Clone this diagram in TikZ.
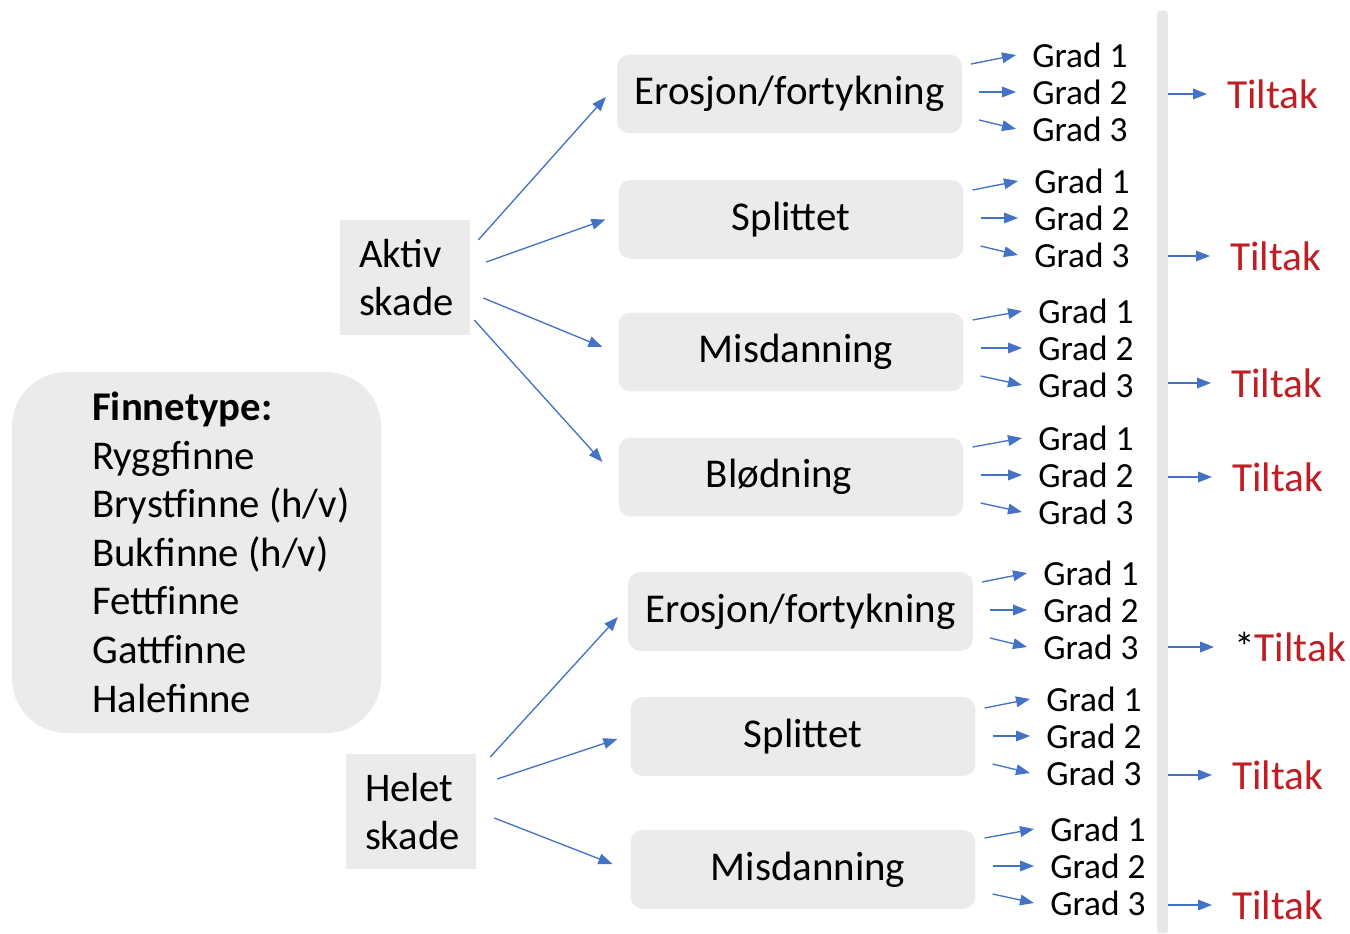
\documentclass[tikz,border=0pt]{standalone}
\usepackage{fontspec}
\setmainfont{Carlito}
\usetikzlibrary{arrows.meta,calc}
\definecolor{boxgray}{RGB}{235,235,235}
\definecolor{bargray}{RGB}{232,232,232}
\definecolor{arrblue}{RGB}{68,114,196}
\definecolor{tilred}{RGB}{190,30,36}
\tikzset{
  catbox/.style={fill=boxgray, rounded corners=9pt, inner sep=0pt,
    minimum width=258.5pt, minimum height=59pt,
    font=\fontsize{30.7pt}{36pt}\selectfont},
  dmgbox/.style={fill=boxgray, inner xsep=14.25pt, inner ysep=0pt,
    text width=69pt, align=left, minimum height=86.25pt,
    font=\fontsize{30.5pt}{36pt}\selectfont},
  gradlbl/.style={anchor=west, inner sep=0pt, font=\fontsize{26.5pt}{30pt}\selectfont},
  tiltak/.style={anchor=west, inner sep=0pt, text=tilred, font=\fontsize{31pt}{36pt}\selectfont},
  arr/.style={draw=arrblue, line width=1pt, -{Triangle[length=10.5pt,width=8pt]}},
}
\newcommand{\gradgroup}[4]{%
  \node[gradlbl] (#2a) at (#3,#4) {Grad 1};
  \node[gradlbl] (#2b) at (#3,#4+37) {Grad 2};
  \node[gradlbl] (#2c) at (#3,#4+74) {Grad 3};
  \draw[arr] ($(#1.east |- #2a.west)+(9,9)$) -- ($(#2a.west)+(-16,0)$);
  \draw[arr] ($(#1.east |- #2b.west)+(17,0)$) -- ($(#2b.west)+(-16,0)$);
  \draw[arr] ($(#1.east |- #2c.west)+(17,-9)$) -- ($(#2c.west)+(-16,0)$);
}
\begin{document}
\begin{tikzpicture}[x=0.75pt,y=-0.75pt]
\useasboundingbox (0,0) rectangle (1350,933);

% left list box
\node[fill=boxgray, rounded corners=41pt, minimum width=276.75pt, minimum height=270.75pt, inner sep=0pt] (finbox) at (196.5,552.5) {};
\node[anchor=base west, inner sep=0pt, align=left, font=\fontsize{30.6pt}{36.4pt}\selectfont] (fintext) at (92,712)
  {\textbf{Finnetype:}\\Ryggfinne\\Brystfinne (h/v)\\Bukfinne (h/v)\\Fettfinne\\Gattfinne\\Halefinne};

% damage type boxes
\node[dmgbox] (aktiv) at (405,277.5) {Aktiv\\skade};
\node[dmgbox] (helet) at (411,811.5) {Helet\\skade};

% category boxes
\node[catbox] (ero1) at (789.5,94) {Erosjon/fortykning};
\node[catbox] (spl1) at (791,219.5) {Splittet};
\node[catbox] (mis1) at (791,352) {\hspace*{7.5pt}Misdanning};
\node[catbox] (blo)  at (791,477) {\hspace*{-18pt}Blødning};
\node[catbox] (ero2) at (800.5,611.5) {Erosjon/fortykning};
\node[catbox] (spl2) at (803,736.5) {Splittet};
\node[catbox] (mis2) at (803,869.5) {\hspace*{7.5pt}Misdanning};

% arrows from damage boxes
\draw[arr] ($(aktiv.east)+(8,-37.5)$) -- ($(ero1.west)+(-11,3)$);
\draw[arr] ($(aktiv.east)+(16,-15.5)$) -- ($(spl1.west)+(-13,0)$);
\draw[arr] ($(aktiv.east)+(13,20.5)$) -- ($(mis1.west)+(-16,-5)$);
\draw[arr] ($(aktiv.east)+(4,42.5)$) -- ($(blo.west)+(-16,-15)$);
\draw[arr] ($(helet.east)+(14,-54.5)$) -- ($(ero2.west)+(-10,5.5)$);
\draw[arr] ($(helet.east)+(21,-32.5)$) -- ($(spl2.west)+(-13,2.5)$);
\draw[arr] ($(helet.east)+(18,6.5)$) -- ($(mis2.west)+(-18,-5.5)$);

% grade groups
\gradgroup{ero1}{ga}{1032}{55}
\gradgroup{spl1}{gb}{1034}{181}
\gradgroup{mis1}{gc}{1038}{311}
\gradgroup{blo}{gd}{1038}{438}
\gradgroup{ero2}{ge}{1043}{573}
\gradgroup{spl2}{gf}{1046}{699}
\gradgroup{mis2}{gg}{1050}{829}

% separator bar
\node[fill=bargray, rounded corners=2pt, inner sep=0pt, minimum width=8pt, minimum height=692pt] (bar) at (1162.5,472) {};

% Tiltak labels
\node[tiltak] (ta) at (1227,94) {Tiltak};
\node[tiltak] (tb) at (1230,256) {Tiltak};
\node[tiltak] (tc) at (1231,383) {Tiltak};
\node[tiltak] (td) at (1232,477) {Tiltak};
\node[tiltak] (te) at (1234,647) {{\color{black}*}Tiltak};
\node[tiltak] (tf) at (1232,775) {Tiltak};
\node[tiltak] (tg) at (1232,905) {Tiltak};
\foreach \t in {ta,tb,tc,td,te,tf,tg}
  \draw[arr] (bar.east |- \t.west) -- ($(\t.west)+(-20,0)$);
\end{tikzpicture}
\end{document}
